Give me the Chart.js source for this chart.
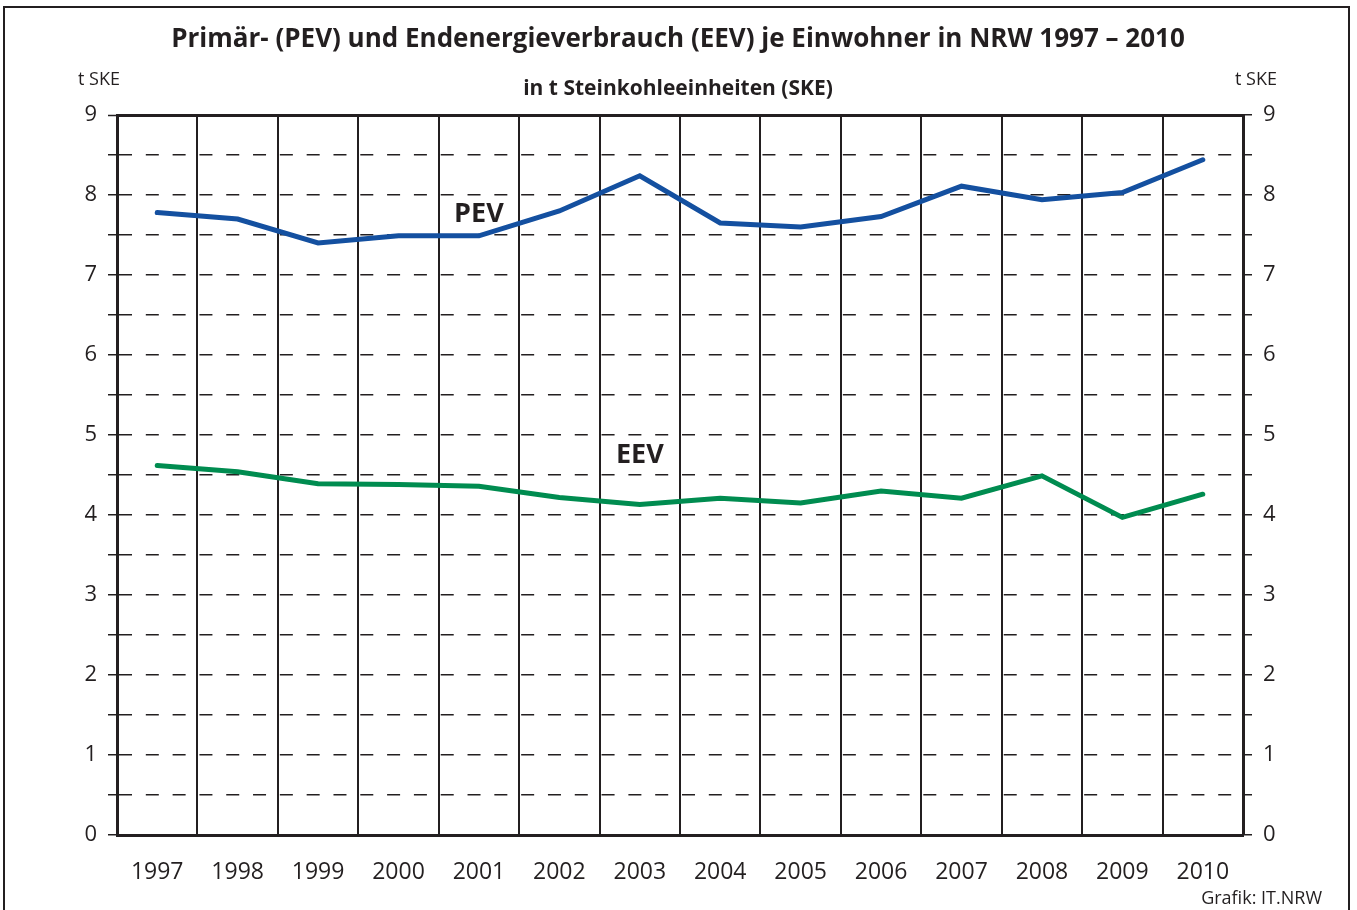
<!DOCTYPE html>
<html>
<head>
<meta charset="utf-8">
<script src="https://cdn.jsdelivr.net/npm/chart.js@4.4.0/dist/chart.umd.min.js"></script>
<style>
  html, body { margin: 0; padding: 0; background: #fff; }
  #wrap { width: 1357px; height: 910px; position: relative; }
</style>
</head>
<body>
<div id="wrap"><canvas id="energyChart" width="1357" height="910"></canvas></div>
<script>
const years = ['1997', '1998', '1999', '2000', '2001', '2002', '2003', '2004', '2005', '2006', '2007', '2008', '2009', '2010'];
const pevValues = [7.78, 7.70, 7.40, 7.49, 7.49, 7.80, 8.24, 7.65, 7.60, 7.73, 8.11, 7.94, 8.03, 8.44];
const eevValues = [4.62, 4.54, 4.39, 4.38, 4.36, 4.22, 4.13, 4.21, 4.15, 4.30, 4.21, 4.49, 3.97, 4.26];
const yMin = 0, yMax = 9, yStep = 0.5;

const FONT = '"Open Sans", "Noto Sans", sans-serif';
const INK = '#231f20';
const BLUE = '#1450a0';
const GREEN = '#008c50';

// series names placed inside the plot (category index, value)
const seriesLabels = [
    { text: 'PEV', index: 4, value: 7.76 },
    { text: 'EEV', index: 6, value: 4.75 }
];

function dashFor(ctx) {
    if (!ctx.tick) return [];
    if (ctx.tick.value === yMin || ctx.tick.value === yMax) return [];
    return [13, 13.81];
}

// only whole numbers get a label, half steps keep their grid line
function wholeOnly(v) {
    return Number.isInteger(v) ? String(v) : '';
}

const textPlugin = {
    id: 'texts',
    beforeDraw: function (chart) {
        const c = chart.ctx;
        c.save();
        c.fillStyle = '#fff';
        c.fillRect(0, 0, chart.width, chart.height);
        // outer frame
        c.strokeStyle = INK;
        c.lineWidth = 2;
        c.beginPath();
        c.moveTo(4, 912);
        c.lineTo(4, 7);
        c.lineTo(1349, 7);
        c.lineTo(1349, 912);
        c.stroke();
        c.restore();
    },
    afterDraw: function (chart) {
        const c = chart.ctx;
        const x = chart.scales.x, y = chart.scales.y;
        c.save();
        c.fillStyle = INK;
        c.textBaseline = 'middle';
        c.textAlign = 'center';
        c.font = 'bold 26px ' + FONT;
        c.fillText('Primär- (PEV) und Endenergieverbrauch (EEV) je Einwohner in NRW 1997 – 2010', 678, 40);
        c.font = 'bold 21px ' + FONT;
        c.fillText('in t Steinkohleeinheiten (SKE)', 678, 89);
        c.font = '18px ' + FONT;
        c.textAlign = 'left';
        c.fillText('t SKE', 78, 80);
        c.textAlign = 'right';
        c.fillText('t SKE', 1277, 80);
        c.fillText('Grafik: IT.NRW', 1322, 899);
        c.textAlign = 'center';
        c.font = 'bold 27px ' + FONT;
        seriesLabels.forEach(function (l) {
            c.fillText(l.text, x.getPixelForValue(l.index), y.getPixelForValue(l.value));
        });
        c.restore();
    }
};

new Chart(document.getElementById('energyChart'), {
    type: 'line',
    data: {
        labels: years,
        datasets: [
            { label: 'PEV', data: pevValues, borderColor: BLUE, borderWidth: 5, pointRadius: 0, tension: 0, fill: false, borderCapStyle: 'round', borderJoinStyle: 'miter' },
            { label: 'EEV', data: eevValues, borderColor: GREEN, borderWidth: 5, pointRadius: 0, tension: 0, fill: false, borderCapStyle: 'round', borderJoinStyle: 'miter' }
        ]
    },
    options: {
        responsive: false,
        animation: false,
        layout: { padding: { top: 115, left: 0, right: 0, bottom: 0 } },
        plugins: { legend: { display: false }, tooltip: { enabled: false }, title: { display: false } },
        scales: {
            x: {
                type: 'category',
                offset: true,
                grid: { offset: true, color: INK, lineWidth: 2, drawTicks: false },
                border: { color: INK, width: 3 },
                ticks: { color: INK, font: { family: FONT, size: 23 }, padding: 24, maxRotation: 0, autoSkip: false },
                afterFit: function (s) { s.height = 75; s.paddingLeft = 0; s.paddingRight = 0; }
            },
            y: {
                position: 'left',
                min: yMin, max: yMax,
                grid: {
                    color: INK,
                    lineWidth: function (ctx) { return ctx.tick && ctx.tick.value === yMax ? 3 : 1.5; },
                    tickWidth: 1.5, tickLength: 9, tickColor: INK
                },
                border: { color: INK, width: 3, dash: dashFor },
                ticks: {
                    stepSize: yStep, autoSkip: false, color: INK, padding: 11,
                    font: { family: FONT, size: 22 }, callback: wholeOnly
                },
                afterFit: function (s) { s.width = 117; s.paddingTop = 0; s.paddingBottom = 0; }
            },
            y2: {
                position: 'right',
                min: yMin, max: yMax,
                grid: { drawOnChartArea: false, color: INK, lineWidth: 1.5, tickLength: 9 },
                border: { color: INK, width: 3 },
                ticks: {
                    stepSize: yStep, autoSkip: false, color: INK, padding: 11,
                    font: { family: FONT, size: 22 }, callback: wholeOnly
                },
                afterFit: function (s) { s.width = 114; s.paddingTop = 0; s.paddingBottom = 0; }
            }
        }
    },
    plugins: [textPlugin]
});
</script>
</body>
</html>
